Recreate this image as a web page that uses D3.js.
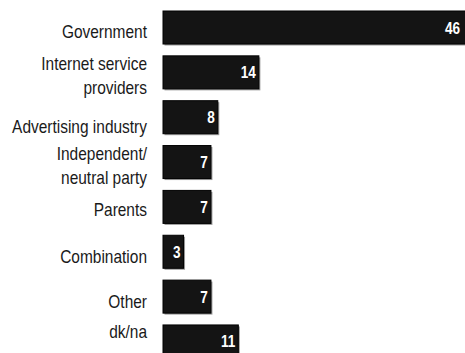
<!DOCTYPE html>
<html>
<head>
<meta charset="utf-8">
<script src="https://cdn.jsdelivr.net/npm/d3@7"></script>
<style>
  html, body { margin: 0; padding: 0; background: #fff; }
  svg { display: block; }
</style>
</head>
<body>
<div id="chart"></div>
<script>
// Who should be responsible (percent of answers)
const categories = [
  ["Government"],
  ["Internet service", "providers"],
  ["Advertising industry"],
  ["Independent/", "neutral party"],
  ["Parents"],
  ["Combination"],
  ["Other"],
  ["dk/na"]
];
const values = [46, 14, 8, 7, 7, 3, 7, 11];

// small vertical nudges for the single-line labels (px)
const labelNudge = [10.5, 0, 15.5, 0, 9.5, 11.5, 11.5, -3.5];

const W = 465, H = 353;
const x0 = 163;
const narrow = 0.86;   // horizontal squeeze for a narrow face
const FONT = "'Liberation Sans', Arial, sans-serif";

const svg = d3.select("#chart").append("svg")
  .attr("width", W).attr("height", H);

const keys = categories.map(d => d.join(" "));

const y = d3.scaleBand()
  .domain(keys)
  .range([11, 11 + 44.85 * (8 - 0.264)])
  .paddingInner(0.264)
  .paddingOuter(0);

const x = d3.scaleLinear().domain([0, 46]).range([0, 315]);

const rows = values.map((v, i) => ({ key: keys[i], lines: categories[i], v, nudge: labelNudge[i] }));

const g = svg.append("g");

// soft grey shadow under each bar
g.selectAll("rect.shadow").data(rows).join("rect")
  .attr("class", "shadow")
  .attr("x", x0 + 1.5)
  .attr("y", d => y(d.key) + 1.5)
  .attr("width", d => x(d.v))
  .attr("height", y.bandwidth())
  .attr("fill", "#9a9a9a");

g.selectAll("rect.bar").data(rows).join("rect")
  .attr("class", "bar")
  .attr("x", x0)
  .attr("y", d => y(d.key))
  .attr("width", d => x(d.v))
  .attr("height", y.bandwidth())
  .attr("fill", "#141414")
  .attr("stroke", "#000")
  .attr("stroke-width", 1);

// value labels inside the bar end
g.selectAll("text.val").data(rows).join("text")
  .attr("class", "val")
  .attr("transform", d => `translate(${Math.min(x0 + x(d.v) - 3, W - 5)},${y(d.key) + y.bandwidth() / 2 + 6}) scale(0.8,1)`)
  .attr("text-anchor", "end")
  .attr("font-family", FONT)
  .attr("font-weight", "bold")
  .attr("font-size", 17)
  .attr("fill", "#fff")
  .text(d => d.v);

// category labels, right aligned left of the bars
g.selectAll("g.cat").data(rows).join("g")
  .attr("class", "cat")
  .each(function(d) {
    const c = y(d.key) + y.bandwidth() / 2;
    const ys = d.lines.length === 1 ? [c + d.nudge] : d.lines.map((_, j) => c - 2 + j * 23.5);
    d.lines.forEach((ln, j) => {
      d3.select(this).append("text")
        .attr("transform", `translate(147,${ys[j]}) scale(${narrow},1)`)
        .attr("text-anchor", "end")
        .attr("font-family", FONT)
        .attr("font-size", 18)
        .attr("fill", "#1a1a1a")
        .text(ln);
    });
  });
</script>
</body>
</html>
